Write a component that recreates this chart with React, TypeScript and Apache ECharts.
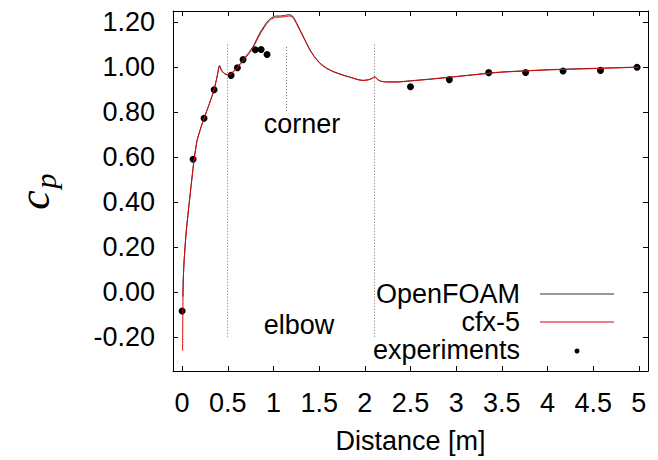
import React, { useEffect, useRef } from "react";
import * as echarts from "echarts";

const xTicks = [0, 0.5, 1, 1.5, 2, 2.5, 3, 3.5, 4, 4.5, 5];
const yTicks = [-0.2, 0, 0.2, 0.4, 0.6, 0.8, 1.0, 1.2];

const seriesNames = ["OpenFOAM", "cfx-5", "experiments"];

const openFoam: [number, number][] = [
  [0.008, -0.02], [0.012, 0.05], [0.022, 0.143], [0.045, 0.27], [0.073, 0.38],
  [0.1, 0.48], [0.13, 0.587], [0.164, 0.675], [0.2, 0.725], [0.24, 0.773],
  [0.3, 0.84], [0.35, 0.9], [0.38, 0.955], [0.41, 1.008], [0.43, 0.988],
  [0.46, 0.974], [0.5, 0.967], [0.54, 0.974], [0.6, 0.998], [0.67, 1.034],
  [0.73, 1.065], [0.78, 1.095], [0.85, 1.152], [0.92, 1.196], [0.97, 1.218],
  [1.02, 1.227], [1.08, 1.228], [1.13, 1.231], [1.17, 1.234], [1.21, 1.227],
  [1.25, 1.2], [1.29, 1.167], [1.35, 1.118], [1.4, 1.078], [1.45, 1.047],
  [1.51, 1.018], [1.58, 0.997], [1.655, 0.981], [1.75, 0.967], [1.84, 0.956],
  [1.92, 0.946], [1.98, 0.942], [2.04, 0.945], [2.08, 0.951], [2.11, 0.958],
  [2.14, 0.946], [2.18, 0.938], [2.25, 0.935], [2.35, 0.935], [2.5, 0.94],
  [2.7, 0.947], [3.0, 0.959], [3.36, 0.974], [3.5, 0.979], [4.0, 0.989],
  [4.5, 0.995], [5.0, 1.001],
];

const cfx5: [number, number][] = [
  [0.005, -0.26], [0.008, -0.09], [0.012, 0.05], [0.022, 0.143], [0.045, 0.27],
  [0.073, 0.38], [0.1, 0.48], [0.13, 0.587], [0.164, 0.675], [0.2, 0.725],
  [0.24, 0.773], [0.3, 0.84], [0.35, 0.9], [0.38, 0.952], [0.41, 1.005],
  [0.43, 0.985], [0.46, 0.972], [0.5, 0.965], [0.54, 0.972], [0.6, 0.995],
  [0.67, 1.03], [0.73, 1.06], [0.78, 1.09], [0.85, 1.145], [0.92, 1.19],
  [0.97, 1.212], [1.02, 1.222], [1.08, 1.223], [1.13, 1.225], [1.17, 1.228],
  [1.21, 1.222], [1.25, 1.195], [1.29, 1.163], [1.35, 1.115], [1.4, 1.075],
  [1.45, 1.045], [1.51, 1.016], [1.58, 0.995], [1.655, 0.98], [1.75, 0.966],
  [1.84, 0.955], [1.92, 0.945], [1.98, 0.941], [2.04, 0.944], [2.08, 0.95],
  [2.11, 0.957], [2.14, 0.945], [2.18, 0.937], [2.25, 0.934], [2.35, 0.934],
  [2.5, 0.939], [2.7, 0.946], [3.0, 0.958], [3.36, 0.973], [3.5, 0.978],
  [4.0, 0.988], [4.5, 0.994], [5.0, 1.0],
];

const experiments: [number, number][] = [
  [0.0, -0.083], [0.12, 0.591], [0.24, 0.773], [0.35, 0.9], [0.536, 0.964],
  [0.605, 0.998], [0.667, 1.034], [0.8, 1.078], [0.865, 1.079], [0.93, 1.057],
  [2.5, 0.913], [2.925, 0.945], [3.356, 0.976], [3.76, 0.977], [4.17, 0.983],
  [4.58, 0.986], [4.98, 1.0],
];

// dotted reference lines: [x, yTop, yBottom]
const refLines: [number, number, number][] = [
  [0.49, 1.1, -0.2],
  [1.14, 1.09, 0.8],
  [2.1, 1.1, -0.2],
];

const annotations = ["corner", "elbow"];

const FONT = "Liberation Sans";

export default function App() {
  const ref = useRef<HTMLDivElement>(null);
  useEffect(() => {
    if (!ref.current) return;
    const chart = echarts.init(ref.current, undefined, { renderer: "svg" });
    const tickStyle = { show: true, inside: true, length: 5, lineStyle: { color: "#000", width: 1 } };
    const axisLine = { show: true, onZero: false, lineStyle: { color: "#000", width: 1 } };
    const legendX1 = 540, legendX2 = 614, legendTextX = 520;
    const legendY = [294, 322, 350];
    chart.setOption({
      animation: false,
      backgroundColor: "#fff",
      grid: { left: 173, right: 10, top: 11, bottom: 89, containLabel: false },
      xAxis: [
        {
          type: "value", min: -0.1, max: 5.1, position: "bottom",
          axisLine, splitLine: { show: false },
          axisTick: { ...tickStyle, customValues: xTicks },
          axisLabel: { customValues: xTicks, color: "#000", fontSize: 27, fontFamily: FONT, margin: 18 },
          name: "Distance [m]", nameLocation: "middle", nameGap: 56,
          nameTextStyle: { color: "#000", fontSize: 27, fontFamily: FONT },
        },
        {
          type: "value", min: -0.1, max: 5.1, position: "top",
          axisLine, splitLine: { show: false },
          axisTick: { ...tickStyle, customValues: xTicks },
          axisLabel: { show: false },
        },
      ],
      yAxis: [
        {
          type: "value", min: -0.35, max: 1.25, position: "left",
          axisLine, splitLine: { show: false },
          axisTick: { ...tickStyle, customValues: yTicks },
          axisLabel: {
            customValues: yTicks, color: "#000", fontSize: 27, fontFamily: FONT, margin: 18,
            formatter: (v: number) => v.toFixed(2),
          },
        },
        {
          type: "value", min: -0.35, max: 1.25, position: "right",
          axisLine, splitLine: { show: false },
          axisTick: { ...tickStyle, customValues: yTicks },
          axisLabel: { show: false },
        },
      ],
      series: [
        {
          name: seriesNames[0], type: "line", data: openFoam, showSymbol: false, smooth: 0.2,
          lineStyle: { color: "#333", width: 1 }, silent: true,
        },
        {
          name: seriesNames[1], type: "line", data: cfx5, showSymbol: false, smooth: 0.2,
          lineStyle: { color: "#e00000", width: 1 }, silent: true,
          markLine: {
            silent: true, symbol: ["none", "none"], label: { show: false },
            lineStyle: { color: "#777", width: 1, type: [1, 2] },
            data: refLines.map(([x, y1, y2]) => [{ coord: [x, y1] }, { coord: [x, y2] }]),
          },
        },
        {
          name: seriesNames[2], type: "scatter", data: experiments, symbol: "circle", symbolSize: 7,
          itemStyle: { color: "#000", opacity: 1 }, silent: true,
        },
      ],
      graphic: [
        {
          type: "text", x: 56, y: 200, rotation: Math.PI / 2,
          style: { text: "c", font: "italic 44px 'Liberation Serif'", fill: "#000", textAlign: "center", textVerticalAlign: "bottom" },
        },
        {
          type: "text", x: 60, y: 181, rotation: Math.PI / 2,
          style: { text: "p", font: "italic 30px 'Liberation Serif'", fill: "#000", textAlign: "center", textVerticalAlign: "bottom" },
        },
        {
          type: "text", x: 302, y: 124,
          style: { text: annotations[0], font: `27px '${FONT}'`, fill: "#000", textAlign: "center", textVerticalAlign: "middle" },
        },
        {
          type: "text", x: 299, y: 325,
          style: { text: annotations[1], font: `27px '${FONT}'`, fill: "#000", textAlign: "center", textVerticalAlign: "middle" },
        },
        ...seriesNames.map((n, i) => ({
          type: "text", x: legendTextX, y: legendY[i],
          style: { text: n, font: `27px '${FONT}'`, fill: "#000", textAlign: "right", textVerticalAlign: "middle" },
        })),
        {
          type: "line", shape: { x1: legendX1, y1: legendY[0], x2: legendX2, y2: legendY[0] },
          style: { stroke: "#333", lineWidth: 1 },
        },
        {
          type: "line", shape: { x1: legendX1, y1: legendY[1], x2: legendX2, y2: legendY[1] },
          style: { stroke: "#e00000", lineWidth: 1 },
        },
        {
          type: "circle", shape: { cx: 577, cy: legendY[2] + 1, r: 2.5 },
          style: { fill: "#000" },
        },
      ],
    });
    return () => chart.dispose();
  }, []);
  return <div ref={ref} style={{ position: "fixed", left: 0, top: 0, width: 658, height: 460 }} />;
}
